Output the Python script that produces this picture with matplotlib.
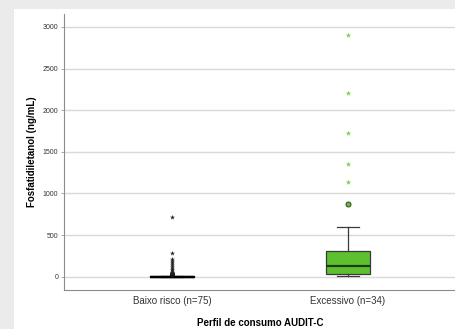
import numpy as np
import matplotlib.pyplot as plt
from matplotlib.patches import Rectangle

plt.rcParams['font.family'] = ['Liberation Sans', 'DejaVu Sans']

# groups and box statistics
groups = ['Baixo risco (n=75)', 'Excessivo (n=34)']
q1 = [0, 32]
med = [2, 128]
q3 = [5, 309]
whislo = [0, 5]
whishi = [14, 594]
# outliers (circles) and extreme values (stars)
out_baixo = [20, 26, 33, 40]
ext_baixo = [48, 62, 80, 98, 118, 140, 162, 190, 216, 289, 714]
out_exc = [877]
ext_exc = [1135, 1355, 1722, 2203, 2904]

yticks = [0, 500, 1000, 1500, 2000, 2500, 3000]

green = '#5dc02f'
fig = plt.figure(figsize=(4.56, 3.29), dpi=100)
fig.patch.set_facecolor('#ebebeb')
fig.add_artist(Rectangle((14/456, 0), 1, 1 - 9/329, transform=fig.transFigure,
                         facecolor='white', edgecolor='none', zorder=0))

ax = fig.add_axes([64/456, 1 - 290/329, 1 - 64/456, (290 - 14)/329])
ax.set_facecolor('white')

stats = []
for i in range(2):
    stats.append(dict(q1=q1[i], med=med[i], q3=q3[i], whislo=whislo[i],
                      whishi=whishi[i], fliers=[], label=groups[i]))

bp = ax.bxp(stats, positions=[1, 2], widths=0.25, patch_artist=True, showfliers=False,
            boxprops=dict(edgecolor='#3a3a3a', linewidth=0.9),
            whiskerprops=dict(color='#3a3a3a', linewidth=0.9),
            capprops=dict(color='#3a3a3a', linewidth=0.9),
            medianprops=dict(color='#1e3a10', linewidth=1.6), capwidths=0.125)
bp['boxes'][0].set_facecolor('black')
bp['boxes'][0].set_edgecolor('black')
bp['boxes'][0].set_linewidth(1.0)
bp['medians'][0].set_color('black')
bp['boxes'][1].set_facecolor(green)

ax.scatter([1]*len(out_baixo), out_baixo, s=7, facecolor='#333333', edgecolor='black',
           linewidth=0.4, zorder=3)
ax.scatter([1]*len(ext_baixo), ext_baixo, s=14, marker='*', color='#222222',
           linewidth=0, zorder=3)
ax.scatter([2]*len(out_exc), out_exc, s=13, facecolor=green, edgecolor='#2e4a22',
           linewidth=0.7, zorder=3)
ax.scatter([2]*len(ext_exc), ext_exc, s=18, marker='*', color='#7fd05a',
           linewidth=0, zorder=3)

ax.set_xlim(1 - 108/176, 2 + 108/176)
ax.set_ylim(-160, 3156)
ax.set_yticks(yticks)
ax.set_yticklabels([str(v) for v in yticks], fontsize=5, color='#333333')
ax.set_xticks([1, 2])
ax.set_xticklabels(groups, fontsize=7, color='#333333')
ax.tick_params(axis='x', length=0, pad=4)
ax.tick_params(axis='y', length=2, width=0.6, color='#999999', pad=2)
ax.grid(axis='y', color='#d9d9d9', linewidth=1)
ax.set_axisbelow(True)
for s in ['top', 'right']:
    ax.spines[s].set_visible(False)
for s in ['left', 'bottom']:
    ax.spines[s].set_color('#8c8c8c')
    ax.spines[s].set_linewidth(0.8)

ax.set_xlabel('Perfil de consumo AUDIT-C', fontsize=7, fontweight='bold', labelpad=9)
ax.set_ylabel('Fosfatidiletanol (ng/mL)', fontsize=7, fontweight='bold', labelpad=4)

fig.savefig('out.png', dpi=100)
